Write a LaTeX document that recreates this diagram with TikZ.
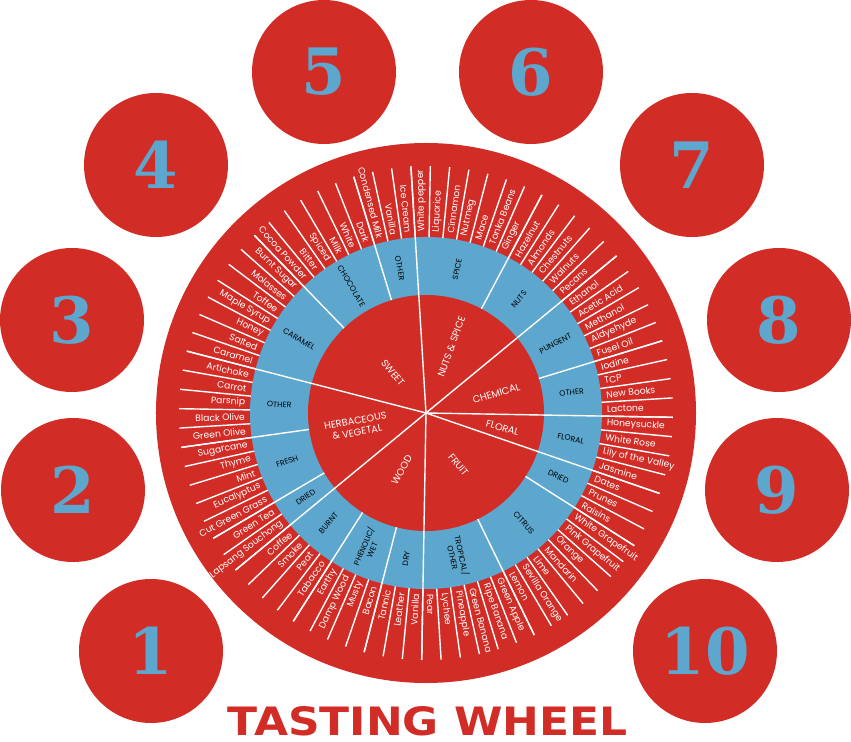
\documentclass[tikz,border=0pt]{standalone}
\usepackage{fontspec}
\usepackage{graphicx}
\setmainfont{Poppins}
\newfontfamily\numfont{DejaVu Serif}
\newfontfamily\titlefont{DejaVu Sans}
\definecolor{wred}{HTML}{D12D26}
\definecolor{wblue}{HTML}{5DA6CE}
\begin{document}
\begin{tikzpicture}[x=1bp,y=1bp,
  sepline/.style={draw=white, line width=1.4bp},
  itemlab/.style={text=white, font=\fontsize{9.2bp}{11bp}\selectfont, inner sep=0pt},
  catlab/.style={text=white, font=\fontsize{9.8bp}{11.5bp}\selectfont, inner sep=0pt, align=center},
  sublab/.style={text=black, font=\fontsize{7.8bp}{9bp}\selectfont, inner sep=0pt, align=center},
  numcircle/.style={circle, fill=wred, minimum size=144bp, inner sep=0pt, text=wblue, font=\numfont\bfseries\fontsize{64bp}{64bp}\selectfont}]
\useasboundingbox (-426,-329) rectangle (425,413);

% numbered circles
\node[numcircle] (n1) at (-275,-238) {1};
\node[numcircle] (n2) at (-353,-77) {2};
\node[numcircle] (n3) at (-354,93) {3};
\node[numcircle] (n4) at (-270,248) {4};
\node[numcircle] (n5) at (-102,341) {5};
\node[numcircle] (n6) at (105,341) {6};
\node[numcircle] (n7) at (266,248) {7};
\node[numcircle] (n8) at (353,93) {8};
\node[numcircle] (n9) at (351,-77) {9};
\node[numcircle] (n10) at (279,-238) {10};

% wheel discs
\fill[wred] (0,0) circle (270bp);
\fill[wblue] (0,0) circle (176bp);
\fill[wred] (0,0) circle (118bp);

% item separator lines
\foreach \k in {0,...,79}{
  \draw[sepline] ({93.5-4.5*\k}:176bp) -- ({93.5-4.5*\k}:247bp);
}
% sub-category lines
\foreach \k in {7,17,28,35,44,48,54,59,71,77}{
  \draw[sepline] ({93.5-4.5*\k}:118bp) -- ({93.5-4.5*\k}:247bp);
}
% main category lines
\coordinate (c) at (0,0);
\foreach \k in {0,12,21,25,41,52,64}{
  \draw[sepline] (c) -- ({93.5-4.5*\k}:247bp);
}

% item labels
\foreach \t [count=\k from 0] in {White pepper,Liquorice,Cinnamon,Nutmeg,Mace,Tonka Beans,Ginger,Hazelnut,Almonds,Chestnuts,Walnuts,Pecans,Ethanol,Acetic Acid,Methanol,Aldyehyde,Fusel Oil,Iodine,TCP,New Books,Lactone,Honeysuckle,White Rose,Lily of the Valley,Jasmine,Dates,Prunes,Raisins,White Grapefruit,Pink Grapefruit,Orange,Mandarin,Lime,Sevilla Orange,Lemon,Green Apple,Ripe Banana,Green Banana,Pineapple,Lychee,Pear,Vanilla,Leather,Tannic,Bacon,Musty,Damp Wood,Earthy,Tabacco,Peat,Smoke,Coffee,Lapsang Souchong,Green Tea,Cut Green Grass,Eucalyptus,Mint,Thyme,Sugarcane,Green Olive,Black Olive,Parsnip,Carrot,Artichoke,Caramel,Salted,Honey,Maple Syrup,Toffee,Molasses,Burnt Sugar,Cocoa Powder,Bitter,Spiced,Milk,White,Dark,Condensed Milk,Vanilla,Ice Cream}{
  \pgfmathsetmacro\a{91.25-4.5*\k}
  \ifnum\k<41
    \node[itemlab, anchor=west, rotate=\a] (it\k) at (\a:181bp) {\t};
  \else
    \pgfmathsetmacro\b{\a+180}
    \node[itemlab, anchor=east, rotate=\b] (it\k) at (\a:181bp) {\t};
  \fi
}

% sub-category labels
\node[sublab, rotate=77.75] (s1) at (77.75:147bp) {SPICE};
\node[sublab, rotate=50.75] (s2) at (50.75:147bp) {NUTS};
\node[sublab, rotate=28.25] (s3) at (28.25:147bp) {PUNGENT};
\node[sublab, rotate=6] (s4) at (8:147bp) {OTHER};
\node[sublab, rotate=-12] (s5) at (-10:147bp) {FLORAL};
\node[sublab, rotate=-25.75] (s6) at (-25.75:147bp) {DRIED};
\node[sublab, rotate=-48.25] (s7) at (-48.25:147bp) {CITRUS};
\node[sublab, rotate=-77.5] (s8) at (-77.5:147bp) {TROPICAL/\\OTHER};
\node[sublab, rotate=82.25] (s9) at (-97.75:147bp) {DRY};
\node[sublab, rotate=66.5] (s10) at (-113.5:147bp) {PHENOLIC/\\WET};
\node[sublab, rotate=48.5] (s11) at (-131.5:147bp) {BURNT};
\node[sublab, rotate=35] (s12) at (-145:147bp) {DRIED};
\node[sublab, rotate=19.25] (s13) at (-160.75:147bp) {FRESH};
\node[sublab, rotate=-3.25] (s14) at (-183.25:147bp) {OTHER};
\node[sublab, rotate=-30.25] (s15) at (-210.25:147bp) {CARAMEL};
\node[sublab, rotate=-59.5] (s16) at (-239.5:147bp) {CHOCOLATE};
\node[sublab, rotate=-79.75] (s17) at (-259.75:147bp) {OTHER};

% main category labels
\node[catlab, rotate=-50.5] (m1) at (129.5:52bp) {SWEET};
\node[catlab, rotate=70] (m2) at (69:71bp) {NUTS \& SPICE};
\node[catlab, rotate=16] (m3) at (15.6:73bp) {CHEMICAL};
\node[catlab, rotate=-16] (m4) at (-11:78bp) {FLORAL};
\node[catlab, rotate=-50] (m5) at (-58:61bp) {FRUIT};
\node[catlab, rotate=60] (m6) at (247:62bp) {WOOD};
\node[catlab, rotate=10] (m7) at (191:71bp) {HERBACEOUS\\\& VEGETAL};

% title
\node[text=wred, inner sep=0pt] (title) at (1.5,-308) {\resizebox{400bp}{29bp}{\titlefont\bfseries TASTING WHEEL}};
\end{tikzpicture}
\end{document}
